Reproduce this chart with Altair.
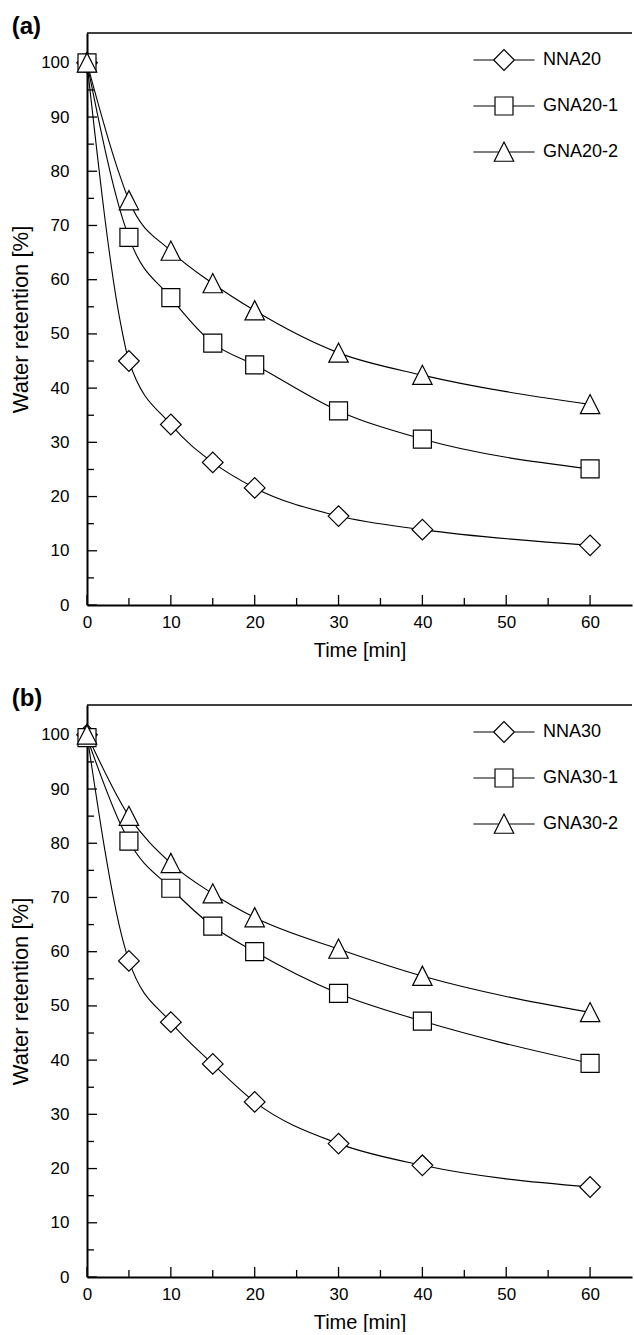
import altair as alt
import pandas as pd

# ---------------- data ----------------
time = [0, 5, 10, 15, 20, 30, 40, 60]

a_names = ["NNA20", "GNA20-1", "GNA20-2"]
a_nna = [100, 45.0, 33.3, 26.3, 21.6, 16.4, 13.9, 11.0]
a_gna1 = [100, 67.8, 56.7, 48.3, 44.3, 35.8, 30.6, 25.1]
a_gna2 = [100, 74.6, 65.3, 59.3, 54.3, 46.5, 42.4, 37.0]

b_names = ["NNA30", "GNA30-1", "GNA30-2"]
b_nna = [100, 58.3, 47.0, 39.3, 32.3, 24.6, 20.6, 16.6]
b_gna1 = [99.5, 80.4, 71.7, 64.7, 60.0, 52.3, 47.2, 39.4]
b_gna2 = [100, 85.0, 76.3, 70.7, 66.3, 60.5, 55.5, 48.8]

# extra points (between the markers)
a_nna_extra_t = [4.0]
a_nna_extra_v = [52.0]
a_gna1_extra_t = [4.3]
a_gna1_extra_v = [71.0]
a_gna2_extra_t = [3.7]
a_gna2_extra_v = [80.2]
b_nna_extra_t = [4.3]
b_nna_extra_v = [62.0]
b_gna1_extra_t = [4.0]
b_gna1_extra_v = [83.5]
b_gna2_extra_t = []
b_gna2_extra_v = []

x_major = [0, 10, 20, 30, 40, 50, 60]
x_minor = [5, 15, 25, 35, 45, 55]
y_major = [0, 10, 20, 30, 40, 50, 60, 70, 80, 90, 100]
y_minor = [5, 15, 25, 35, 45, 55, 65, 75, 85, 95]

FONT = "Liberation Sans"
W, H = 545, 572

marker_paths = [
    "M-1.15,0L0,-1.15L1.15,0L0,1.15Z",
    "M-1,-1H1V1H-1Z",
    "M-1.08,1.03H1.08L0,-1.1Z",
]
legend_paths = [
    "M-3.4,0H-1.15M1.15,0H3.4M-1.15,0L0,-1.15L1.15,0L0,1.15Z",
    "M-3.4,0H-1M1,0H3.4M-1,-1H1V1H-1Z",
    "M-3.4,0H-0.55M0.55,0H3.4M-1.08,1.03H1.08L0,-1.1Z",
]


def panel(tag, names, vals, extras):
    prow, lrow = [], []
    for name, v, (et, ev) in zip(names, vals, extras):
        for t, y in zip(time, v):
            prow.append({"t": t, "v": y, "series": name})
            lrow.append({"t": t, "v": y, "series": name})
        for t, y in zip(et, ev):
            lrow.append({"t": t, "v": y, "series": name})
    pts = pd.DataFrame(prow)
    lns = pd.DataFrame(lrow).sort_values(["series", "t"])

    xs = alt.Scale(domain=[0, 65], nice=False, zero=False)
    ys = alt.Scale(domain=[0, 105.5], nice=False, zero=False)

    xaxis = alt.Axis(values=x_major, ticks=False, grid=False, title="Time [min]",
                     labelFont=FONT, labelFontSize=17, labelColor="black",
                     labelPadding=9, titleFont=FONT, titleFontSize=20,
                     titleFontWeight="normal", titleColor="black", titlePadding=10,
                     domainColor="black", domainWidth=2, labelFlush=False)
    yaxis = alt.Axis(values=y_major, ticks=False, grid=False, title="Water retention [%]",
                     labelFont=FONT, labelFontSize=17, labelColor="black",
                     labelPadding=18, titleFont=FONT, titleFontSize=22,
                     titleFontWeight="normal", titleColor="black", titlePadding=8,
                     domainColor="black", domainWidth=2, labelFlush=False)

    X = lambda f: alt.X(f, scale=xs, axis=xaxis)
    Y = lambda f: alt.Y(f, scale=ys, axis=yaxis)

    line = alt.Chart(lns).mark_line(color="black", strokeWidth=1.1,
                                    interpolate="monotone").encode(
        x=X("t:Q"), y=Y("v:Q"), detail="series:N", order="t:Q",
    )
    layers = [line]
    # top frame line
    layers.append(alt.Chart(pd.DataFrame({"v": [105.5]})).mark_rule(
        color="black", strokeWidth=1.5).encode(y=Y("v:Q"), x=alt.value(0), x2=alt.value(W)))
    for vals_, ln in [(y_major, 10), (y_minor, 7)]:
        layers.append(alt.Chart(pd.DataFrame({"v": vals_})).mark_rule(
            color="black", strokeWidth=1.3).encode(y=Y("v:Q"), x=alt.value(0), x2=alt.value(ln)))
    for vals_, ln in [(x_major, 10), (x_minor, 7)]:
        layers.append(alt.Chart(pd.DataFrame({"t": vals_})).mark_rule(
            color="black", strokeWidth=1.3).encode(x=X("t:Q"), y=alt.value(H), y2=alt.value(H - ln)))

    points = alt.Chart(pts).mark_point(filled=True, fill="white", stroke="black",
                                       strokeWidth=1.2, size=324, opacity=1).encode(
        x=X("t:Q"), y=Y("v:Q"),
        shape=alt.Shape("series:N", scale=alt.Scale(domain=names, range=marker_paths),
                        legend=None))
    leg = alt.Chart(pts).mark_point(color="black", size=324, opacity=0).encode(
        x=X("t:Q"), y=Y("v:Q"),
        shape=alt.Shape("series:N", scale=alt.Scale(domain=names, range=legend_paths),
                        legend=alt.Legend(orient="none", legendX=407, legendY=17, title=None,
                                          labelFont=FONT, labelFontSize=18, labelColor="black",
                                          rowPadding=21, labelOffset=29, padding=0,
                                          labelLimit=0, symbolSize=324, symbolOpacity=1,
                                          symbolStrokeWidth=1.2)))
    layers += [points, leg]

    return alt.layer(*layers).resolve_scale(shape="independent").properties(
        width=W, height=H,
        title=alt.Title(tag, anchor="start", frame="bounds", font=FONT, fontSize=24,
                        fontWeight="bold", color="black", offset=-7, dx=2))


pa = panel("(a)", a_names, [a_nna, a_gna1, a_gna2],
           [(a_nna_extra_t, a_nna_extra_v), (a_gna1_extra_t, a_gna1_extra_v),
            (a_gna2_extra_t, a_gna2_extra_v)])
pb = panel("(b)", b_names, [b_nna, b_gna1, b_gna2],
           [(b_nna_extra_t, b_nna_extra_v), (b_gna1_extra_t, b_gna1_extra_v),
            (b_gna2_extra_t, b_gna2_extra_v)])

chart = alt.vconcat(pa, pb, spacing=27).resolve_scale(
    shape="independent").resolve_legend(shape="independent").properties(
    padding={"left": 9, "top": 15, "right": 0, "bottom": 0},
    background="white",
).configure_view(strokeWidth=0)

chart.save("out.html", embed_options={"renderer": "svg", "actions": False})
